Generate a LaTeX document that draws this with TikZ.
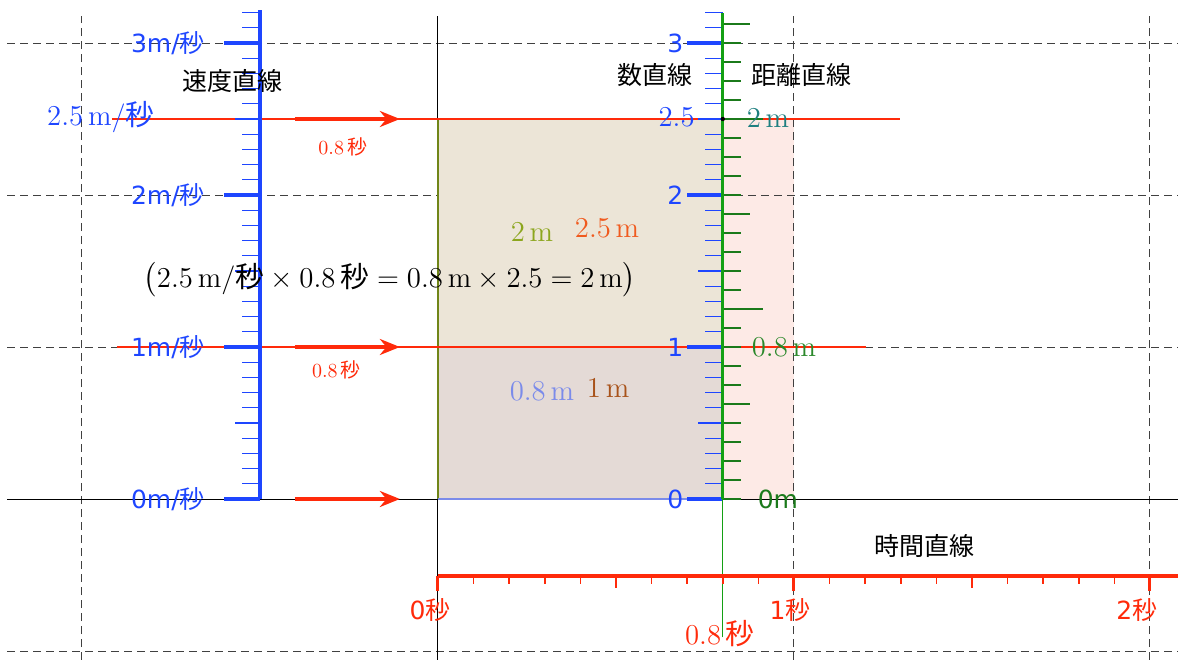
\documentclass[tikz,border=0pt]{standalone}
\usepackage{exscale}
\usepackage{fontspec}
\newfontfamily\jp{Noto Sans CJK JP}
\newfontfamily\dv{DejaVu Sans}
\usetikzlibrary{arrows.meta}

\definecolor{vblue}{HTML}{1E46FF}
\definecolor{tred}{HTML}{FF2A0A}
\definecolor{dgreen}{HTML}{14A014}
\definecolor{tickgreen}{HTML}{1B7A1B}
\definecolor{fillup}{HTML}{ECE5D7}
\definecolor{filllow}{HTML}{E4DAD6}
\definecolor{fillpink}{HTML}{FDEAE6}
\definecolor{olivelbl}{HTML}{8CA61E}
\definecolor{orangelbl}{HTML}{F05A1E}
\definecolor{lightblue}{HTML}{7B8BEA}
\definecolor{brownlbl}{HTML}{A8521A}
\definecolor{teallbl}{HTML}{1E7F80}
\definecolor{greenlbl}{HTML}{2A882A}

\newcommand{\byo}{{\jp 秒}}

\tikzset{
  gridline/.style={draw=black!75, line width=0.5pt, dash pattern=on 4pt off 2.5pt},
  sanslbl/.style={font=\dv\fontsize{12.5}{14}\selectfont, inner sep=0pt},
  seriflbl/.style={font=\fontsize{14.4}{16}\selectfont, inner sep=0pt},
  titlelbl/.style={font=\jp\fontsize{12.5}{14}\selectfont, inner sep=0pt},
  vmajor/.style={vblue, line width=1.7pt},
  vminor/.style={vblue, line width=0.6pt},
  gminor/.style={tickgreen, line width=0.6pt},
  tmajor/.style={tred, line width=1.5pt},
  tminor/.style={tred, line width=0.8pt},
  redarrow/.style={tred, line width=1.7pt, -{Stealth[length=10pt,width=8pt]}}
}

\begin{document}
\begin{tikzpicture}[x=178pt, y=76pt]
\useasboundingbox (-1.2303,-1.0526) rectangle (2.0787,3.2829);

% pink strip under the grid
\fill[fillpink] (0.8,0) rectangle (1,2.5);

% grid and axes
\foreach \gy in {-1,...,3}
  \draw[gridline] (-1.21,\gy) -- (2.08,\gy);
\foreach \gx in {-1,...,2}
  \draw[gridline] (\gx,-1.06) -- (\gx,3.18);
\draw[black, line width=0.5pt] (-1.21,0) -- (2.08,0);
\draw[black, line width=0.5pt] (0,-1.06) -- (0,3.18);

% area rectangles
\fill[fillup] (0,1) rectangle (0.8,2.5);
\fill[filllow] (0,0) rectangle (0.8,1);
\draw[olivelbl!80!black, line width=0.6pt] (0,0) -- (0,2.5);
\draw[lightblue, line width=0.6pt] (0,0) -- (0.8,0);

% red speed levels
\draw[tred, line width=0.9pt] (-0.916,2.5) -- (1.298,2.5);
\draw[tred, line width=0.9pt] (-0.902,1) -- (1.202,1);
\foreach \ly in {2.5,1,0}
  \draw[redarrow] (-0.402,\ly) -- (-0.107,\ly);
\node[font=\fontsize{10}{12}\selectfont, text=tred] (dt1) at (-0.267,2.316) {0.8\,\byo};
\node[font=\fontsize{10}{12}\selectfont, text=tred] (dt2) at (-0.285,0.85) {0.8\,\byo};

% blue rulers
\foreach \rx in {-0.5,0.8} {
  \foreach \k in {1,...,32}
    \draw[vminor] (\rx,\k/10) -- ++(-0.0506,0);
  \foreach \k in {0.5,1.5,2.5}
    \draw[vminor] (\rx,\k) -- ++(-0.07,0);
  \foreach \k in {0,...,3}
    \draw[vmajor] (\rx,\k) -- ++(-0.101,0);
}
\draw[vblue, line width=2pt] (-0.5,0) -- (-0.5,3.217);

% green distance ruler
\draw[dgreen, line width=0.7pt] (0.8,-0.91) -- (0.8,0);
\foreach \k in {0,...,25}
  \draw[gminor] (0.8,{\k*0.125}) -- ++(0.0506,0);
\foreach \k in {5,15,25}
  \draw[gminor] (0.8,{\k*0.125}) -- ++(0.076,0);
\foreach \k in {10,20}
  \draw[gminor] (0.8,{\k*0.125}) -- ++(0.112,0);
\draw[dgreen, line width=1.7pt] (0.8,0) -- (0.8,3.2);
\fill[black] (0.8,2.5) circle (1.1pt);

% time line
\draw[tred, line width=2pt] (0,-0.507) -- (2.08,-0.507);
\foreach \k in {1,...,20}
  \draw[tminor] (\k/10,-0.507) -- ++(0,-0.053);
\foreach \k in {0.5,1.5}
  \draw[tminor] (\k,-0.507) -- ++(0,-0.079);
\foreach \k in {0,1,2}
  \draw[tmajor] (\k,-0.507) -- ++(0,-0.099);

% speed labels
\node[sanslbl, text=vblue, anchor=east] (v3) at (-0.654,3) {3m/\byo};
\node[sanslbl, text=vblue, anchor=east] (v2) at (-0.654,2) {2m/\byo};
\node[sanslbl, text=vblue, anchor=east] (v1) at (-0.654,1) {1m/\byo};
\node[sanslbl, text=vblue, anchor=east] (v0) at (-0.654,0) {0m/\byo};
\node[seriflbl, text=vblue] (vhalf) at (-0.947,2.51) {2.5\,m/\byo};
\node[titlelbl] (vtitle) at (-0.576,2.75) {速度直線};

% number line labels
\node[sanslbl, text=vblue, anchor=east] (n3) at (0.69,3) {3};
\node[sanslbl, text=vblue, anchor=east] (n2) at (0.69,2) {2};
\node[sanslbl, text=vblue, anchor=east] (n1) at (0.69,1) {1};
\node[sanslbl, text=vblue, anchor=east] (n0) at (0.69,0) {0};
\node[seriflbl, text=vblue, anchor=east] (nhalf) at (0.722,2.51) {2.5};
\node[titlelbl] (ntitle) at (0.61,2.79) {数直線};

% distance labels
\node[titlelbl] (dtitle) at (1.022,2.79) {距離直線};
\node[seriflbl, text=teallbl] (d2) at (0.927,2.51) {2\,m};
\node[seriflbl, text=greenlbl] (d08) at (0.972,1) {0.8\,m};
\node[sanslbl, text=tickgreen] (d0) at (0.955,0) {0m};

% area labels
\node[seriflbl, text=olivelbl] (a2) at (0.264,1.757) {2\,m};
\node[seriflbl, text=orangelbl] (a25) at (0.475,1.783) {2.5\,m};
\node[seriflbl, text=lightblue] (a08) at (0.292,0.711) {0.8\,m};
\node[seriflbl, text=brownlbl] (a1) at (0.478,0.73) {1\,m};
\node[seriflbl] (calc) at (-0.135,1.441)
  {$\bigl(2.5\,\mathrm{m}/\mbox{\byo}\times 0.8\,\mbox{\byo} = 0.8\,\mathrm{m}\times 2.5 = 2\,\mathrm{m}\bigr)$};

% time labels
\node[titlelbl] (ttitle) at (1.368,-0.309) {時間直線};
\node[sanslbl, text=tred] (t0) at (-0.022,-0.73) {0\byo};
\node[sanslbl, text=tred] (t1) at (0.989,-0.73) {1\byo};
\node[sanslbl, text=tred] (t2) at (1.963,-0.73) {2\byo};
\node[seriflbl, text=tred] (t08) at (0.792,-0.888) {0.8\,\byo};
\end{tikzpicture}
\end{document}
